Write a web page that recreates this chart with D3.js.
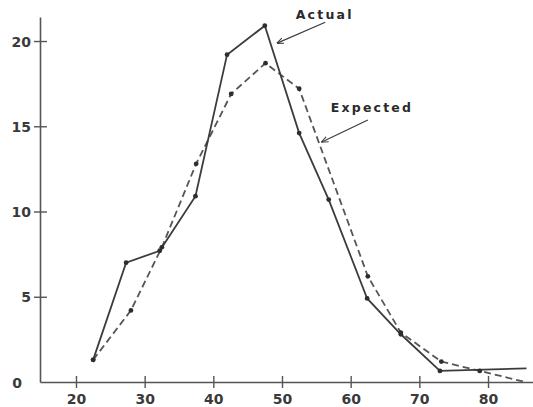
<!DOCTYPE html>
<html>
<head>
<meta charset="utf-8">
<script src="https://cdn.jsdelivr.net/npm/d3@7"></script>
<style>
    html, body { margin: 0; padding: 0; background: #fff; }
    svg { display: block; }
    .tick-label { font-family: "DejaVu Sans", sans-serif; font-weight: bold; font-size: 14px; fill: #3a3a3a; }
    .note { font-family: "DejaVu Sans", sans-serif; font-weight: bold; font-size: 12.5px; fill: #2a2a2a; letter-spacing: 2.2px; }
</style>
</head>
<body>
<div id="chart"></div>
<script>
// values
const actualX = [22.5, 27.3, 32.2, 37.4, 42.0, 47.5, 52.5, 56.8, 62.4, 67.3, 73.0, 85.6];
const actualY = [1.3, 7.0, 7.7, 10.9, 19.2, 20.9, 14.6, 10.7, 4.9, 2.8, 0.65, 0.8];

const expectedX = [22.5, 28.0, 32.5, 37.5, 42.6, 47.6, 52.5, 62.5, 67.3, 73.2, 78.8, 85.4];
const expectedY = [1.3, 4.2, 7.9, 12.8, 16.9, 18.7, 17.2, 6.2, 2.9, 1.2, 0.65, 0.0];

const xTicks = [20, 30, 40, 50, 60, 70, 80];
const yTicks = [0, 5, 10, 15, 20];

const width = 533, height = 407;
const ink = '#3c3c3c';

const x = d3.scaleLinear().domain([14.76, 86.55]).range([40, 533]);
const y = d3.scaleLinear().domain([0, 21.41]).range([382, 17]);

const svg = d3.select('#chart')
    .append('svg')
    .attr('width', width)
    .attr('height', height);

svg.append('defs').append('marker')
    .attr('id', 'arrow')
    .attr('viewBox', '0 -5 10 10')
    .attr('refX', 9)
    .attr('refY', 0)
    .attr('markerWidth', 7)
    .attr('markerHeight', 7)
    .attr('markerUnits', 'userSpaceOnUse')
    .attr('orient', 'auto')
    .append('path')
    .attr('d', 'M0,-4L10,0L0,4')
    .attr('fill', 'none')
    .attr('stroke', ink)
    .attr('stroke-width', 1.5);

// axes
const xAxis = svg.append('g').attr('transform', `translate(0,${y(0)})`)
    .call(d3.axisBottom(x).tickValues(xTicks).tickSize(0).tickFormat(''));
const yAxis = svg.append('g').attr('transform', `translate(${x(14.76)},0)`)
    .call(d3.axisLeft(y).tickValues(yTicks).tickSize(0).tickFormat(''));

[xAxis, yAxis].forEach(a => {
    a.select('.domain').attr('stroke', '#555').attr('stroke-width', 1.6);
});

// ticks crossing the axis lines
xAxis.selectAll('.tick').append('line')
    .attr('y1', -6).attr('y2', 6)
    .attr('stroke', '#555').attr('stroke-width', 1.4);
xAxis.selectAll('.tick').append('text')
    .attr('class', 'tick-label')
    .attr('y', 22)
    .attr('text-anchor', 'middle')
    .text(d => d);

yAxis.selectAll('.tick').filter(d => d > 0).append('line')
    .attr('x1', -6).attr('x2', 7)
    .attr('stroke', '#555').attr('stroke-width', 1.4);
yAxis.selectAll('.tick').append('text')
    .attr('class', 'tick-label')
    .attr('x', d => d > 0 ? -9 : -18)
    .attr('dy', '0.36em')
    .attr('text-anchor', 'end')
    .text(d => d);

const actual = actualX.map((v, i) => ({ x: v, y: actualY[i] }));
const expected = expectedX.map((v, i) => ({ x: v, y: expectedY[i] }));

const line = d3.line().x(d => x(d.x)).y(d => y(d.y));

svg.append('path')
    .datum(expected)
    .attr('d', line)
    .attr('fill', 'none')
    .attr('stroke', '#555')
    .attr('stroke-width', 1.8)
    .attr('stroke-dasharray', '7,4');

svg.append('path')
    .datum(actual)
    .attr('d', line)
    .attr('fill', 'none')
    .attr('stroke', ink)
    .attr('stroke-width', 1.8);

// dots (the line ends past 80 carry none)
[actual, expected].forEach(series => {
    svg.append('g').selectAll('circle')
        .data(series.filter(d => d.x < 80))
        .enter().append('circle')
        .attr('cx', d => x(d.x))
        .attr('cy', d => y(d.y))
        .attr('r', 2.4)
        .attr('fill', '#2e2e2e');
});

// labels with arrows
const notes = [
    { text: 'Actual', tx: 52.0, ty: 21.3, from: [56.3, 21.1], to: [49.3, 19.88] },
    { text: 'Expected', tx: 57.1, ty: 15.84, from: [62.5, 15.37], to: [55.8, 14.08] }
];

notes.forEach(n => {
    svg.append('text')
        .attr('class', 'note')
        .attr('x', x(n.tx))
        .attr('y', y(n.ty))
        .text(n.text);
    svg.append('line')
        .attr('x1', x(n.from[0])).attr('y1', y(n.from[1]))
        .attr('x2', x(n.to[0])).attr('y2', y(n.to[1]))
        .attr('stroke', ink)
        .attr('stroke-width', 1.2)
        .attr('marker-end', 'url(#arrow)');
});
</script>
</body>
</html>
